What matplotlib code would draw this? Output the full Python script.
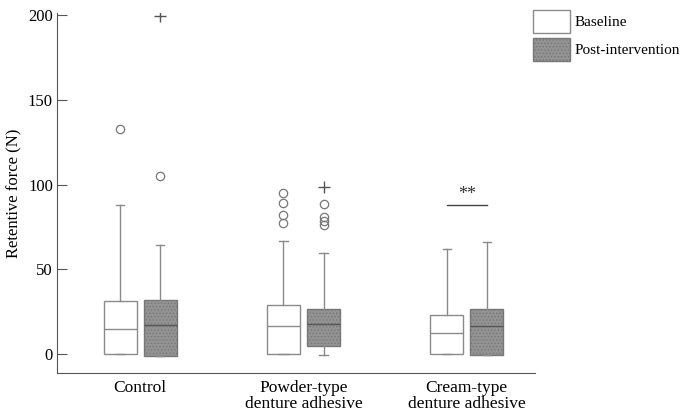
import matplotlib.pyplot as plt
from matplotlib.patches import Patch

plt.rcParams['font.family'] = ['Liberation Serif', 'DejaVu Serif']
plt.rcParams['font.size'] = 12
plt.rcParams['hatch.linewidth'] = 0.6

groups = ['Control', 'Powder-type\ndenture adhesive', 'Cream-type\ndenture adhesive']
series = ['Baseline', 'Post-intervention']

# five-number summaries: [whislo, q1, median, q3, whishi]
baseline = [[0, 0, 14.7, 31.3, 87.9],
            [0, 0, 16.5, 28.7, 66.9],
            [0, 0, 12.4, 22.8, 61.8]]
post = [[-1.2, -1.2, 17.1, 31.9, 64.3],
        [-0.8, 4.7, 17.5, 26.7, 59.4],
        [-0.6, -0.6, 16.5, 26.4, 66.1]]

baseline_out = [[132.7], [77.1, 82.0, 89.3, 95.2], []]
post_out = [[105.0], [75.9, 78.7, 81.0, 88.5], []]
post_extreme = [[199.4], [98.3], []]

sig_label = '**'
sig_level = 88

fig = plt.figure(figsize=(6.83, 4.18), dpi=100)
ax = fig.add_axes([0.0835, 0.1077, 0.6995, 0.861])


def stats(rows, outs):
    out = []
    for r, f in zip(rows, outs):
        out.append(dict(whislo=r[0], q1=r[1], med=r[2], q3=r[3], whishi=r[4], fliers=f))
    return out


off = 0.123
pos = [1, 2, 3]
flierprops = dict(marker='o', markerfacecolor='none', markeredgecolor='#777777',
                  markersize=6, markeredgewidth=0.9, linestyle='none')

ax.bxp(stats(baseline, baseline_out), positions=[p - off for p in pos], widths=0.2,
       capwidths=0.05, patch_artist=True,
       boxprops=dict(facecolor='white', edgecolor='#8a8a8a', linewidth=1.0),
       medianprops=dict(color='#8a8a8a', linewidth=1.0),
       whiskerprops=dict(color='#8a8a8a', linewidth=1.0),
       capprops=dict(color='#8a8a8a', linewidth=1.0),
       flierprops=flierprops)

ax.bxp(stats(post, post_out), positions=[p + off for p in pos], widths=0.2,
       capwidths=0.05, patch_artist=True,
       boxprops=dict(facecolor='#939393', edgecolor='#777777', linewidth=1.0, hatch='.....'),
       medianprops=dict(color='#555555', linewidth=1.0),
       whiskerprops=dict(color='#8a8a8a', linewidth=1.0),
       capprops=dict(color='#8a8a8a', linewidth=1.0),
       flierprops=flierprops)

for p, ext in zip(pos, post_extreme):
    ax.plot([p + off] * len(ext), ext, linestyle='none', marker='+',
            color='#555555', markersize=8, markeredgewidth=1.0)

# significance marker for cream-type group
ax.plot([3 - off, 3 + off], [sig_level, sig_level], color='#444444', linewidth=1.0)
ax.text(3, sig_level + 1, sig_label, ha='center', va='bottom', fontsize=13, color='#333333')

ax.set_xlim(0.49, 3.417)
ax.set_ylim(-11.2, 201.2)
ax.set_yticks([0, 50, 100, 150, 200])
ax.set_xticks(pos)
ax.set_xticklabels(groups, linespacing=1.0, fontsize=12.5)
ax.tick_params(axis='y', direction='in', length=7, color='#555555', pad=3)
ax.tick_params(axis='x', length=0, pad=5)
ax.set_ylabel('Retentive force (N)', fontsize=12, labelpad=4)
for s in ['top', 'right']:
    ax.spines[s].set_visible(False)
for s in ['left', 'bottom']:
    ax.spines[s].set_color('#555555')

handles = [Patch(facecolor='white', edgecolor='#8a8a8a', label=series[0]),
           Patch(facecolor='#939393', edgecolor='#777777', hatch='.....', label=series[1])]
fig.legend(handles=handles, loc='upper left', bbox_to_anchor=(0.772, 0.99),
           frameon=False, handlelength=2.4, handleheight=1.9, handletextpad=0.3,
           labelspacing=0.35, fontsize=11, borderaxespad=0)

fig.savefig('out.png', dpi=100)
